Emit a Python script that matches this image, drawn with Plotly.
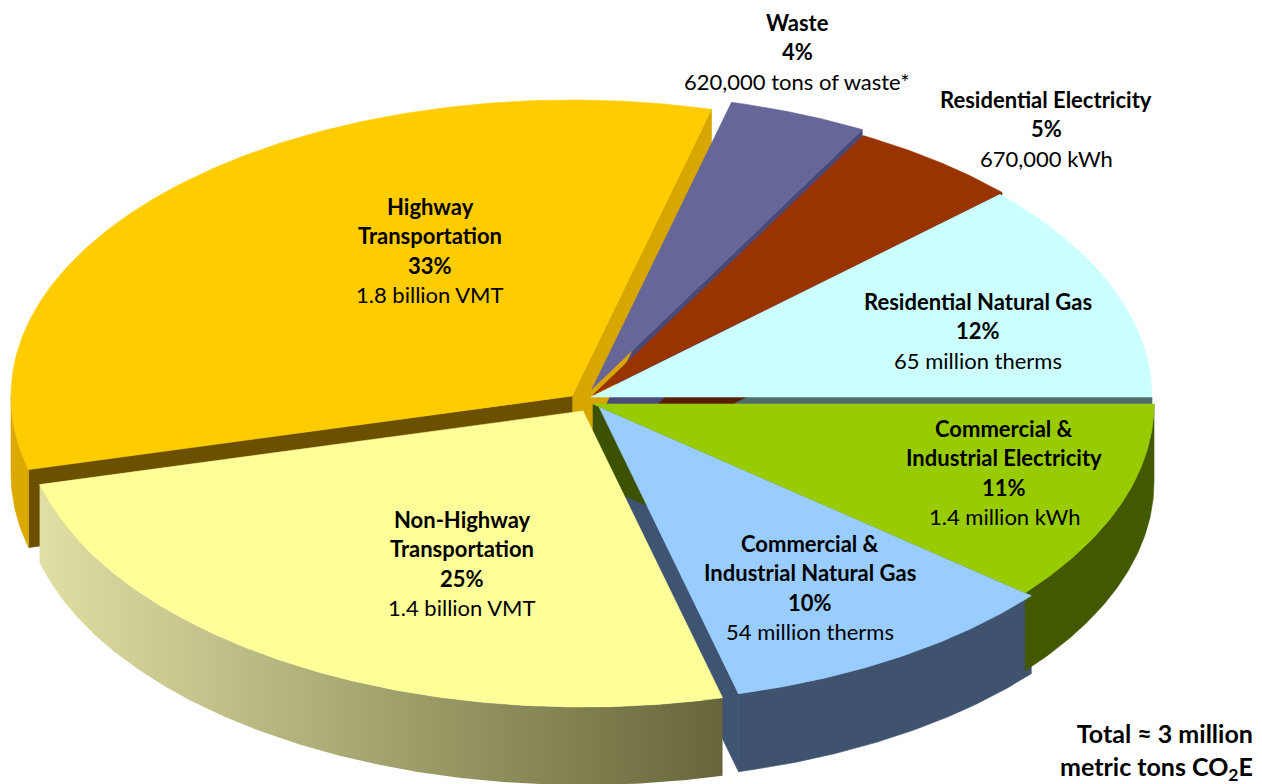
import numpy as np
import plotly.graph_objects as go

# ---------------- data ----------------
categories = ["Residential Natural Gas", "Residential Electricity", "Waste",
              "Highway Transportation", "Non-Highway Transportation",
              "Commercial & Industrial Natural Gas", "Commercial & Industrial Electricity"]
shares = [12, 5, 4, 33, 25, 10, 11]
name_lines = [["Residential Natural Gas"], ["Residential Electricity"], ["Waste"],
              ["Highway", "Transportation"], ["Non-Highway", "Transportation"],
              ["Commercial &", "Industrial Natural Gas"], ["Commercial &", "Industrial Electricity"]]
details = ["65 million therms", "670,000 kWh", "620,000 tons of waste*",
           "1.8 billion VMT", "1.4 billion VMT", "54 million therms", "1.4 million kWh"]
total_lines = ["Total ≈ 3 million", "metric tons CO<sub>2</sub>E"]

# ---------------- style ----------------
W, H = 1262, 784
CX, CY, RX, RY, DEPTH = 583, 402, 561, 296, 78
top_colors = ["#CCFFFF", "#993300", "#666699", "#FFCC00", "#FFFF99", "#99CCFF", "#99CC00"]
start_wall = ["#4F6D6D", "#5A1E00", "#4A4A7A", "#D8A600", "#B0B070", "#3E5472", "#3D5200"]
end_wall = ["#8FB3B3", "#6B2400", "#4A4A7A", "#6A5000", "#B0B070", "#3E5472", "#4A6000"]
outer_wall = ["#8FB3B3", "#6B2400", "#4A4A7A", "#DCA900", None, "#3F536F", "#435900"]
gradient_wall = [[0, "#E0E0A4"], [1, "#66663A"]]
offsets = [(8, -5), (10, -7), (9, -13), (-11, -6), (0, 9), (16, 5), (10, 2)]
label_pos = [(978, 301), (1046, 99), (797, 22), (430, 206), (462, 519), (810, 543), (1004, 428)]
LINE = 29.5
FONT = "Lato, Calibri, Carlito, sans-serif"
FS = 22


def pt(theta_deg, dx, dy, drop=0.0):
    t = np.radians(theta_deg)
    return CX + RX * np.cos(t) + dx, CY - RY * np.sin(t) + dy + drop


fig = go.Figure()
cum = np.concatenate([[0], np.cumsum(shares)]) / sum(shares) * 360.0
slices = [(cum[i], cum[i + 1]) for i in range(len(shares))]

wall_traces_radial = []
wall_traces_outer = []
top_traces = []
for i, (a, b) in enumerate(slices):
    dx, dy = offsets[i]
    vx, vy = CX + dx, CY + dy
    n = max(int((b - a) * 2), 10)
    th = np.linspace(a, b, n)
    ax_, ay_ = pt(th, dx, dy)
    # top face
    top_traces.append(go.Scatter(x=np.concatenate([[vx], ax_, [vx]]), y=np.concatenate([[vy], ay_, [vy]]),
                                 mode="lines", fill="toself", fillcolor=top_colors[i],
                                 line=dict(width=0.6, color=top_colors[i]), hoverinfo="skip", showlegend=False))
    # radial faces (only those facing the viewer)
    for ang, nrm, col in ((a, a - 90, start_wall[i]), (b, b + 90, end_wall[i])):
        if np.sin(np.radians(nrm)) < -1e-6:
            px, py = pt(ang, dx, dy)
            wall_traces_radial.append(go.Scatter(
                x=[vx, px, px, vx, vx], y=[vy, py, py + DEPTH, vy + DEPTH, vy],
                mode="lines", fill="toself", fillcolor=col, line=dict(width=0.6, color=col),
                hoverinfo="skip", showlegend=False))
    # outer wall (front half only)
    lo, hi = max(a, 180), min(b, 360)
    if hi > lo:
        tw = np.linspace(lo, hi, max(int((hi - lo) * 2), 10))
        wx, wy = pt(tw, dx, dy)
        xs = np.concatenate([wx, wx[::-1], [wx[0]]])
        ys = np.concatenate([wy, wy[::-1] + DEPTH, [wy[0]]])
        if outer_wall[i] is None:
            wall_traces_outer.append(go.Scatter(
                x=xs, y=ys, mode="lines", fill="toself",
                fillgradient=dict(type="horizontal", colorscale=gradient_wall),
                line=dict(width=0), hoverinfo="skip", showlegend=False))
        else:
            wall_traces_outer.append(go.Scatter(
                x=xs, y=ys, mode="lines", fill="toself", fillcolor=outer_wall[i],
                line=dict(width=0.6, color=outer_wall[i]), hoverinfo="skip", showlegend=False))

for tr in wall_traces_radial + wall_traces_outer + top_traces:
    fig.add_trace(tr)

# labels
annotations = []
for i in range(len(shares)):
    x0, y0 = label_pos[i]
    lines = [f"<b>{s}</b>" for s in name_lines[i]] + [f"<b>{shares[i]}%</b>", details[i]]
    for k, txt in enumerate(lines):
        annotations.append(dict(x=x0, y=y0 + k * LINE, xref="x", yref="y", text=txt, showarrow=False,
                                xanchor="center", yanchor="middle",
                                font=dict(family=FONT, size=FS, color="#000000")))
annotations.append(dict(x=1255, y=751, xref="x", yref="y",
                        text="<br>".join(f"<b>{t}</b>" for t in total_lines), showarrow=False,
                        xanchor="right", yanchor="middle", align="right",
                        font=dict(family=FONT, size=25, color="#000000")))

fig.update_layout(
    width=W, height=H, margin=dict(l=0, r=0, t=0, b=0),
    paper_bgcolor="white", plot_bgcolor="white",
    xaxis=dict(range=[0, W], visible=False, fixedrange=True),
    yaxis=dict(range=[H, 0], visible=False, fixedrange=True),
    annotations=annotations, showlegend=False,
)
fig.write_html("out.html", config={"displayModeBar": False},
               post_script="document.body.style.margin='0';")
